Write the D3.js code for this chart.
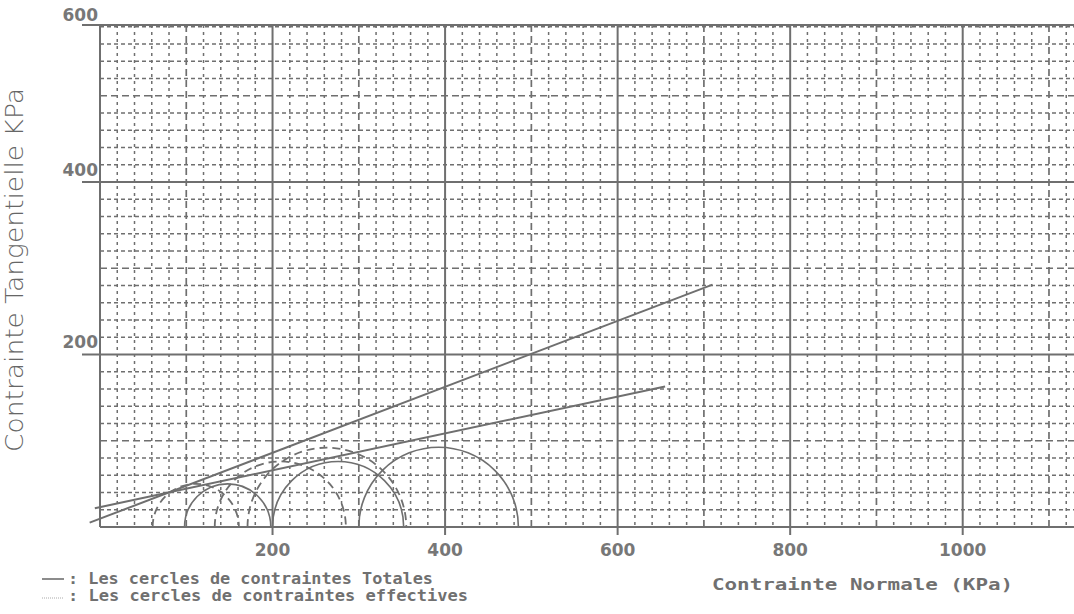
<!DOCTYPE html>
<html>
<head>
<meta charset="utf-8">
<script src="https://d3js.org/d3.v7.min.js"></script>
<style>
  body { margin: 0; background: #fff; }
  svg { display: block; }
</style>
</head>
<body>
<div id="chart"></div>
<script>
// values (KPa)
var xTicks = [200, 400, 600, 800, 1000];
var yTicks = [200, 400];
var yTopLabel = "600";

// Mohr circles: sigma3 / sigma1
var totalS3 = [98, 200, 300];
var totalS1 = [198, 352, 485];
var effS3 = [61, 133, 171];
var effS1 = [161, 285, 355];

// failure envelopes, end points [sigma, tau]
var envUpper = [[-12, 5], [710, 281]];
var envLower = [[-6, 21.7], [655, 163]];

var legendLabels = [": Les cercles de contraintes Totales", ": Les cercles de contraintes effectives"];
var xTitle = "Contrainte Normale (KPa)";
var yTitle = "Contrainte Tangentielle KPa";

var W = 1074, H = 614;
var pl = 100, pr = 1074, pt = 25, pb = 527;
var grey = "#6f6f6f";

var x = d3.scaleLinear().domain([0, 1129]).range([pl, pr]);
var y = d3.scaleLinear().domain([0, 582]).range([pb, pt]);

var svg = d3.select("#chart").append("svg")
    .attr("width", W).attr("height", H);

// grid
var grid = svg.append("g");
var minorX = d3.range(20, 1130, 20).filter(function(v) { return v % 100 != 0; });
var midX = d3.range(100, 1130, 200);
var minorY = d3.range(20, 582, 20).filter(function(v) { return v % 100 != 0; });
var midY = d3.range(100, 582, 200);

grid.selectAll(".vminor").data(minorX).enter().append("line")
    .attr("x1", x).attr("x2", x).attr("y1", pt).attr("y2", pb)
    .attr("stroke", grey).attr("stroke-width", 1.5).attr("stroke-dasharray", "3,4");
grid.selectAll(".hminor").data(minorY).enter().append("line")
    .attr("y1", y).attr("y2", y).attr("x1", pl).attr("x2", pr)
    .attr("stroke", grey).attr("stroke-width", 1.5).attr("stroke-dasharray", "4,3");
grid.selectAll(".vmid").data(midX).enter().append("line")
    .attr("x1", x).attr("x2", x).attr("y1", pt).attr("y2", pb)
    .attr("stroke", grey).attr("stroke-width", 1.7).attr("stroke-dasharray", "7,4");
grid.selectAll(".hmid").data(midY).enter().append("line")
    .attr("y1", y).attr("y2", y).attr("x1", pl).attr("x2", pr)
    .attr("stroke", grey).attr("stroke-width", 1.7).attr("stroke-dasharray", "7,4");

// major lines
grid.selectAll(".vmaj").data(xTicks).enter().append("line")
    .attr("x1", x).attr("x2", x).attr("y1", pt).attr("y2", pb + 8)
    .attr("stroke", grey).attr("stroke-width", 2);
grid.selectAll(".hmaj").data(yTicks).enter().append("line")
    .attr("y1", y).attr("y2", y).attr("x1", 82).attr("x2", pr)
    .attr("stroke", grey).attr("stroke-width", 2);

// frame
svg.append("line").attr("x1", 82).attr("x2", pr).attr("y1", pt).attr("y2", pt)
    .attr("stroke", grey).attr("stroke-width", 2);
svg.append("line").attr("x1", pl).attr("x2", pr).attr("y1", pb).attr("y2", pb)
    .attr("stroke", grey).attr("stroke-width", 2);
svg.append("line").attr("x1", pl).attr("x2", pl).attr("y1", pt).attr("y2", pb)
    .attr("stroke", grey).attr("stroke-width", 2);

// tick labels
var tickFont = "'DejaVu Sans', sans-serif";
svg.selectAll(".xl").data(xTicks).enter().append("text")
    .attr("x", x).attr("y", 556).attr("text-anchor", "middle")
    .attr("font-family", tickFont).attr("font-weight", "bold").attr("font-size", 17)
    .attr("fill", "#777").text(function(d) { return d; });
svg.selectAll(".yl").data(yTicks).enter().append("text")
    .attr("x", 98).attr("y", function(d) { return y(d) - 6; }).attr("text-anchor", "end")
    .attr("font-family", tickFont).attr("font-weight", "bold").attr("font-size", 17)
    .attr("fill", "#777").text(function(d) { return d; });
svg.append("text").attr("x", 98).attr("y", pt - 4).attr("text-anchor", "end")
    .attr("font-family", tickFont).attr("font-weight", "bold").attr("font-size", 17)
    .attr("fill", "#777").text(yTopLabel);

// circles (upper halves)
function semi(s3, s1) {
    var rx = (x(s1) - x(s3)) / 2;
    var ry = y(0) - y((s1 - s3) / 2);
    return "M" + x(s3) + "," + y(0) + " A" + rx + "," + ry + " 0 0 1 " + x(s1) + "," + y(0);
}
var circ = svg.append("g").attr("fill", "none");
circ.selectAll(".tot").data(totalS3).enter().append("path")
    .attr("d", function(d, i) { return semi(d, totalS1[i]); })
    .attr("stroke", grey).attr("stroke-width", 1.6);
circ.selectAll(".eff").data(effS3).enter().append("path")
    .attr("d", function(d, i) { return semi(d, effS1[i]); })
    .attr("stroke", grey).attr("stroke-width", 1.8).attr("stroke-dasharray", "8,5");

// envelopes
var line = d3.line().x(function(d) { return x(d[0]); }).y(function(d) { return y(d[1]); });
svg.selectAll(".env").data([envUpper, envLower]).enter().append("path")
    .attr("d", line).attr("fill", "none").attr("stroke", grey).attr("stroke-width", 2);

// axis titles
svg.append("text")
    .attr("transform", "translate(23,270) rotate(-90)")
    .attr("text-anchor", "middle")
    .attr("font-family", "'DejaVu Sans', sans-serif").attr("font-weight", 200)
    .attr("font-size", 25).attr("fill", "#666")
    .attr("textLength", 364).attr("lengthAdjust", "spacingAndGlyphs")
    .text(yTitle);

var monoFont = "'DejaVu Sans Mono', monospace";
svg.append("text").attr("x", 712).attr("y", 590)
    .attr("font-family", monoFont).attr("font-weight", "bold").attr("font-size", 16)
    .attr("fill", "#707070").attr("textLength", 301).attr("lengthAdjust", "spacingAndGlyphs")
    .text(xTitle);

// legend
svg.append("line").attr("x1", 42).attr("x2", 64).attr("y1", 579).attr("y2", 579)
    .attr("stroke", grey).attr("stroke-width", 1.6);
svg.append("line").attr("x1", 42).attr("x2", 63).attr("y1", 598).attr("y2", 598)
    .attr("stroke", "#aaa").attr("stroke-width", 1).attr("stroke-dasharray", "1,1");
svg.selectAll(".leg").data(legendLabels).enter().append("text")
    .attr("x", 68).attr("y", function(d, i) { return 584 + i * 17; })
    .attr("font-family", monoFont).attr("font-weight", "bold").attr("font-size", 15)
    .attr("fill", "#707070")
    .attr("textLength", function(d, i) { return i == 0 ? 365 : 400; })
    .attr("lengthAdjust", "spacingAndGlyphs")
    .text(function(d) { return d; });
</script>
</body>
</html>
